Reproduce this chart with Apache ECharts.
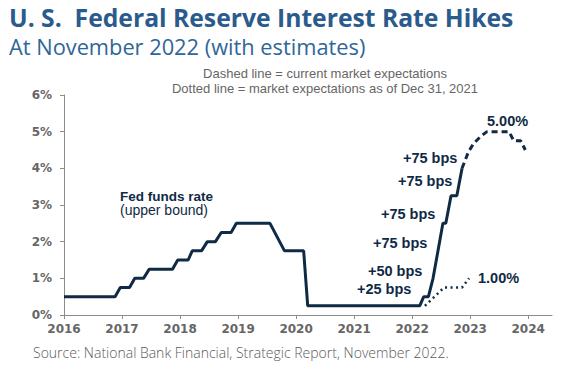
<!DOCTYPE html>
<html><head><meta charset="utf-8">
<script src="https://cdn.jsdelivr.net/npm/echarts@6/dist/echarts.min.js"></script>
<style>html,body{margin:0;padding:0;background:#fff}#c{width:563px;height:371px}</style>
</head><body><div id="c"></div>
<script>
// ---- data (decimal year, % rate) ----
const yearTicks = [2016, 2017, 2018, 2019, 2020, 2021, 2022, 2023, 2024];
const fedDates = [2016.0, 2016.88, 2016.97, 2017.13, 2017.22, 2017.37, 2017.47, 2017.87, 2017.96, 2018.14, 2018.21, 2018.37, 2018.47, 2018.61, 2018.71, 2018.88, 2018.97, 2019.55, 2019.8, 2020.13, 2020.2, 2022.13, 2022.2, 2022.28, 2022.36, 2022.53, 2022.58, 2022.67, 2022.77, 2022.86];
const fedRates = [0.5, 0.5, 0.75, 0.75, 1.0, 1.0, 1.25, 1.25, 1.5, 1.5, 1.75, 1.75, 2.0, 2.0, 2.25, 2.25, 2.5, 2.5, 1.75, 1.75, 0.25, 0.25, 0.5, 0.5, 1.0, 2.5, 2.5, 3.25, 3.25, 4.0];
const currentExpDates = [2022.86, 2022.97, 2023.06, 2023.18, 2023.29, 2023.67, 2023.75, 2023.87, 2023.95];
const currentExpRates = [4.0, 4.45, 4.68, 4.87, 5.0, 5.0, 4.75, 4.75, 4.5];
const dec2021ExpDates = [2022.22, 2022.55, 2022.86, 2022.98];
const dec2021ExpRates = [0.25, 0.75, 0.75, 1.0];
const yTicks = [0, 1, 2, 3, 4, 5, 6];

const pairs = (xs, ys) => xs.map((x, i) => [x, ys[i]]);
const NAVY = '#0f2a44';
const GREY = '#666666';

const chart = echarts.init(document.getElementById('c'), null, {renderer: 'svg'});
chart.setOption({
  animation: false,
  grid: {left: 64, right: 11, top: 95, bottom: 56},
  xAxis: {
    type: 'value', min: yearTicks[0], max: 2024.41, interval: 1,
    splitLine: {show: false},
    axisLine: {lineStyle: {color: '#8c8c8c', width: 1}},
    axisTick: {show: true, length: 4, lineStyle: {color: '#8c8c8c'}, customValues: yearTicks},
    axisLabel: {customValues: yearTicks, color: GREY, fontWeight: 'bold', fontSize: 12, fontFamily: 'DejaVu Sans', margin: 8, formatter: v => String(v)}
  },
  yAxis: {
    type: 'value', min: yTicks[0], max: yTicks[yTicks.length - 1], interval: 1,
    splitLine: {show: false},
    axisLine: {show: true, lineStyle: {color: '#8c8c8c', width: 1}},
    axisTick: {show: true, length: 4, lineStyle: {color: '#8c8c8c'}},
    axisLabel: {color: GREY, fontWeight: 'bold', fontSize: 12, fontFamily: 'DejaVu Sans', margin: 12, formatter: '{value}%'}
  },
  series: [
    {type: 'line', data: pairs(fedDates, fedRates), showSymbol: false, lineStyle: {color: NAVY, width: 3}, z: 3},
    {type: 'line', data: pairs(currentExpDates, currentExpRates), showSymbol: false, lineStyle: {color: NAVY, width: 3, type: [6, 4]}, z: 3},
    {type: 'line', data: pairs(dec2021ExpDates, dec2021ExpRates), showSymbol: false, lineStyle: {color: NAVY, width: 2.5, type: [2, 3.5]}, z: 2}
  ],
  graphic: [
    {type: 'text', left: 9, top: 5, style: {text: 'U. S.  Federal Reserve Interest Rate Hikes', fill: '#2a5b8c', font: 'bold 24.7px "Open Sans"'}},
    {type: 'text', left: 9, top: 35, style: {text: 'At November 2022 (with estimates)', fill: '#2f6699', font: '400 21.8px "Open Sans"'}},
    {type: 'text', x: 325, y: 73, style: {text: 'Dashed line = current market expectations', fill: '#666', font: '13px "Liberation Sans"', align: 'center', verticalAlign: 'middle'}},
    {type: 'text', x: 325, y: 88, style: {text: 'Dotted line = market expectations as of Dec 31, 2021', fill: '#666', font: '13px "Liberation Sans"', align: 'center', verticalAlign: 'middle'}},
    {type: 'text', x: 120, y: 196, style: {text: 'Fed funds rate', fill: NAVY, font: 'bold 13.5px "Liberation Sans"', verticalAlign: 'middle'}},
    {type: 'text', x: 120, y: 210, style: {text: '(upper bound)', fill: NAVY, font: '14px "Liberation Sans"', verticalAlign: 'middle'}},
    {type: 'text', x: 403, y: 158, style: {text: '+75 bps', fill: NAVY, font: 'bold 14.5px "Liberation Sans"', verticalAlign: 'middle'}},
    {type: 'text', x: 398, y: 181, style: {text: '+75 bps', fill: NAVY, font: 'bold 14.5px "Liberation Sans"', verticalAlign: 'middle'}},
    {type: 'text', x: 381, y: 214, style: {text: '+75 bps', fill: NAVY, font: 'bold 14.5px "Liberation Sans"', verticalAlign: 'middle'}},
    {type: 'text', x: 373, y: 243, style: {text: '+75 bps', fill: NAVY, font: 'bold 14.5px "Liberation Sans"', verticalAlign: 'middle'}},
    {type: 'text', x: 368, y: 271, style: {text: '+50 bps', fill: NAVY, font: 'bold 14.5px "Liberation Sans"', verticalAlign: 'middle'}},
    {type: 'text', x: 357, y: 289, style: {text: '+25 bps', fill: NAVY, font: 'bold 14.5px "Liberation Sans"', verticalAlign: 'middle'}},
    {type: 'text', x: 487, y: 121, style: {text: '5.00%', fill: NAVY, font: 'bold 14.5px "Liberation Sans"', verticalAlign: 'middle'}},
    {type: 'text', x: 478, y: 278, style: {text: '1.00%', fill: NAVY, font: 'bold 14.5px "Liberation Sans"', verticalAlign: 'middle'}},
    {type: 'text', x: 33, y: 352, style: {text: 'Source: National Bank Financial, Strategic Report, November 2022.', fill: '#5a5a5a', font: '300 14px "Open Sans"', verticalAlign: 'middle'}}
  ]
});
</script></body></html>
